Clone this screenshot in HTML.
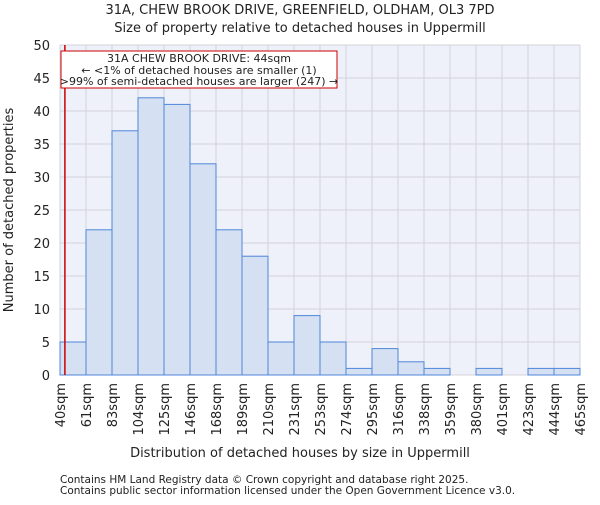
<!DOCTYPE html>
<html><head><meta charset="utf-8"><style>body{margin:0;background:#fff}svg text{font-family:"DejaVu Sans","Liberation Sans",sans-serif;fill:#222}</style></head>
<body>
<svg id="c" width="600" height="500"></svg>
<script>
const categories=["40sqm","61sqm","83sqm","104sqm","125sqm","146sqm","168sqm","189sqm","210sqm","231sqm","253sqm","274sqm","295sqm","316sqm","338sqm","359sqm","380sqm","401sqm","423sqm","444sqm","465sqm"];
const counts=[5,22,37,42,41,32,22,18,5,9,5,1,4,2,1,0,1,0,1,1];
const yTicks=[0,5,10,15,20,25,30,35,40,45,50];
const markerSqm=44;
const L=60,R=580,T=45,B=375,ymax=50,xmin=40,xmax=465;
const ns="http://www.w3.org/2000/svg",s=document.getElementById('c');
function y(v){return B-(v/ymax)*(B-T);}
function xi(i){return L+i*(R-L)/counts.length;}
function xs(v){return L+(v-xmin)/(xmax-xmin)*(R-L);}
function el(t,a,txt){const e=document.createElementNS(ns,t);for(const k in a)e.setAttribute(k,a[k]);if(txt!==undefined)e.textContent=txt;s.appendChild(e);return e;}
let e=el('rect',{x:L,y:T,width:R-L,height:B-T,fill:'#eef1fa'});


yTicks.forEach(v=>{let g=el('line',{x1:L,x2:R,y1:y(v),y2:y(v),stroke:'#d4d4d8'});


let t=el('text',{x:L-10,y:y(v)+5,'text-anchor':'end','font-size':13},v);

});
categories.forEach((c,i)=>{let g=el('line',{x1:xi(i),x2:xi(i),y1:T,y2:B,stroke:'#d4d4d8'});


let t=el('text',{transform:`translate(${xi(i)+5},${B+8}) rotate(-90)`,'text-anchor':'end','font-size':13},c);

});
counts.forEach((v,i)=>{let b=el('rect',{x:xi(i),y:y(v),width:xi(i+1)-xi(i),height:B-y(v),fill:'#d6e0f3',stroke:'#4f86d9','stroke-width':1});

});
e=el('line',{x1:xs(markerSqm),x2:xs(markerSqm),y1:T,y2:B,stroke:'#cc0000','stroke-width':1.5});


e=el('rect',{x:61,y:51,width:276,height:37,fill:'#fff',stroke:'#cc0000','stroke-width':1});


[["31A CHEW BROOK DRIVE: 44sqm",62],["← <1% of detached houses are smaller (1)",74],[">99% of semi-detached houses are larger (247) →",85]].forEach(([t,yy])=>{let a=el('text',{x:199,y:yy,'text-anchor':'middle','font-size':11},t);

});
[["31A, CHEW BROOK DRIVE, GREENFIELD, OLDHAM, OL3 7PD",14,'chart-title'],["Size of property relative to detached houses in Uppermill",32,'chart-subtitle']].forEach(([t,yy,n])=>{let a=el('text',{x:300,y:yy,'text-anchor':'middle','font-size':13},t);

});
e=el('text',{x:300,y:457,'text-anchor':'middle','font-size':13},"Distribution of detached houses by size in Uppermill");


e=el('text',{transform:'translate(13,210) rotate(-90)','text-anchor':'middle','font-size':13},"Number of detached properties");


[["Contains HM Land Registry data © Crown copyright and database right 2025.",483],["Contains public sector information licensed under the Open Government Licence v3.0.",494]].forEach(([t,yy])=>{let a=el('text',{x:60,y:yy,'font-size':10.5,fill:'#444'},t);

});
</script>
</body></html>
